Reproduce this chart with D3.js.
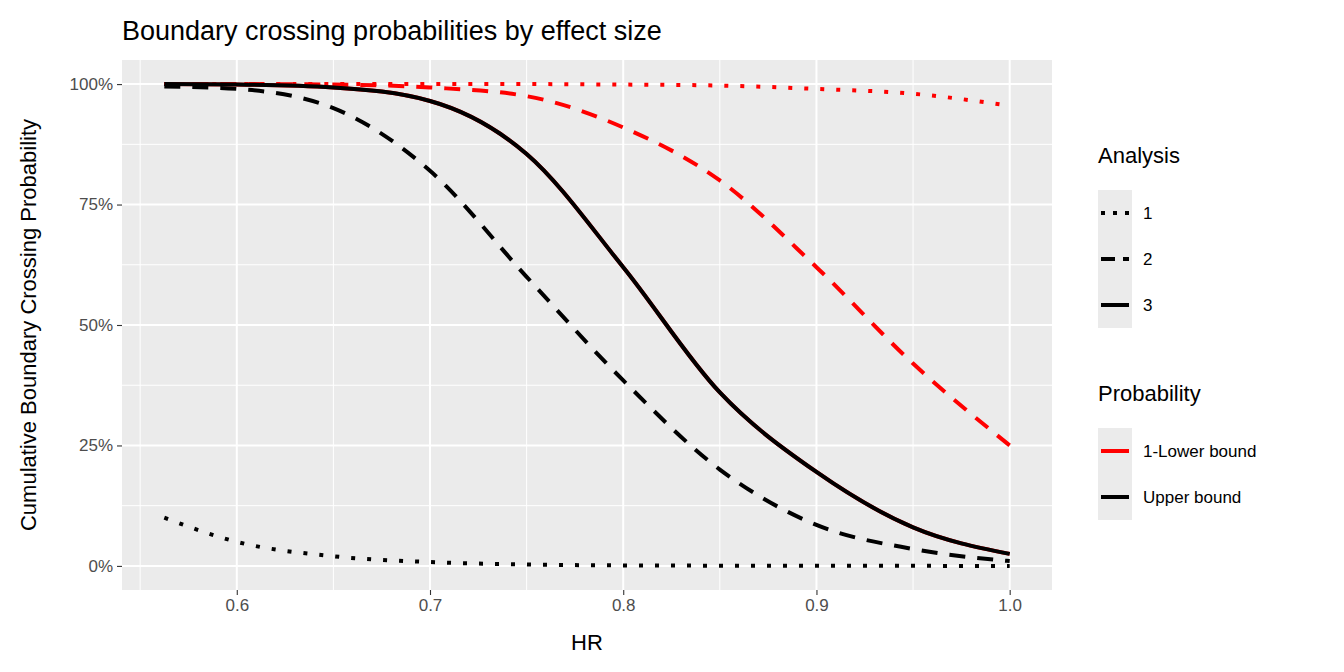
<!DOCTYPE html>
<html>
<head>
<meta charset="UTF-8">
<script src="https://d3js.org/d3.v7.min.js"></script>
<style>
  body { margin: 0; background: #fff; }
  text { font-family: "Liberation Sans", Arial, sans-serif; }
</style>
</head>
<body>
<svg id="chart" width="1344" height="672"></svg>
<script>
const hr = [0.5625, 0.6, 0.65, 0.7, 0.75, 0.8, 0.85, 0.9, 0.95, 1.0];
// upper bound, cumulative by analysis
const upper1 = [0.10, 0.05, 0.02, 0.008, 0.003, 0.001, 0.0005, 0.0002, 0.0001, 0.0];
const upper2 = [0.995, 0.99, 0.95, 0.82, 0.60, 0.385, 0.20, 0.085, 0.035, 0.01];
const upper3 = [1.0, 0.999, 0.993, 0.965, 0.855, 0.62, 0.36, 0.195, 0.08, 0.025];
// 1 - lower bound
const lower1 = [1.0, 1.0, 1.0, 1.0, 1.0, 0.999, 0.997, 0.99, 0.98, 0.955];
const lower2 = [1.0, 1.0, 0.999, 0.993, 0.975, 0.91, 0.80, 0.62, 0.42, 0.25];
const lower3 = upper3;
const xTicks = [0.6, 0.7, 0.8, 0.9, 1.0];
const yTicks = [0, 0.25, 0.5, 0.75, 1.0];

const series = [
  { name: "lower1", y: lower1, color: "#ff0000", dash: "4,12" },
  { name: "lower2", y: lower2, color: "#ff0000", dash: "16,12" },
  { name: "lower3", y: lower3, color: "#ff0000", dash: null },
  { name: "upper1", y: upper1, color: "#000000", dash: "4,12" },
  { name: "upper2", y: upper2, color: "#000000", dash: "16,12" },
  { name: "upper3", y: upper3, color: "#000000", dash: null }
];

const svg = d3.select("#chart");
const pLeft = 122, pRight = 1052, pTop = 60, pBottom = 590;

const x = d3.scaleLinear().domain([0.5406, 1.0219]).range([pLeft, pRight]);
const y = d3.scaleLinear().domain([-0.05, 1.05]).range([pBottom, pTop]);

svg.append("rect").attr("x", pLeft).attr("y", pTop)
  .attr("width", pRight - pLeft).attr("height", pBottom - pTop).attr("fill", "#ebebeb");

// minor grid
const xMinor = [0.55, 0.65, 0.75, 0.85, 0.95];
const yMinor = [0.125, 0.375, 0.625, 0.875];
svg.selectAll(".xmin").data(xMinor).enter().append("line")
  .attr("x1", d => x(d)).attr("x2", d => x(d)).attr("y1", pTop).attr("y2", pBottom)
  .attr("stroke", "#fff").attr("stroke-width", 1);
svg.selectAll(".ymin").data(yMinor).enter().append("line")
  .attr("y1", d => y(d)).attr("y2", d => y(d)).attr("x1", pLeft).attr("x2", pRight)
  .attr("stroke", "#fff").attr("stroke-width", 1);
// major grid
svg.selectAll(".xmaj").data(xTicks).enter().append("line")
  .attr("x1", d => x(d)).attr("x2", d => x(d)).attr("y1", pTop).attr("y2", pBottom)
  .attr("stroke", "#fff").attr("stroke-width", 2);
svg.selectAll(".ymaj").data(yTicks).enter().append("line")
  .attr("y1", d => y(d)).attr("y2", d => y(d)).attr("x1", pLeft).attr("x2", pRight)
  .attr("stroke", "#fff").attr("stroke-width", 2);

const line = d3.line().x(d => x(d[0])).y(d => y(d[1])).curve(d3.curveMonotoneX);
series.forEach(s => {
  svg.append("path").datum(hr.map((h, i) => [h, s.y[i]]))
    .attr("d", line).attr("fill", "none").attr("stroke", s.color)
    .attr("stroke-width", 4).attr("stroke-dasharray", s.dash);
});

// axes
const xAxis = svg.append("g").attr("transform", `translate(0,${pBottom})`)
  .call(d3.axisBottom(x).tickValues(xTicks).tickFormat(d3.format(".1f")).tickSize(5).tickPadding(4));
const yAxis = svg.append("g").attr("transform", `translate(${pLeft},0)`)
  .call(d3.axisLeft(y).tickValues(yTicks).tickFormat(d => Math.round(d * 100) + "%").tickSize(5).tickPadding(4));
[xAxis, yAxis].forEach(a => {
  a.select(".domain").remove();
  a.selectAll("line").attr("stroke", "#333").attr("stroke-width", 1.1);
  a.selectAll("text").attr("fill", "#4d4d4d").style("font-size", "17px");
});

svg.append("text").attr("x", pLeft).attr("y", 40).style("font-size", "27px").text("Boundary crossing probabilities by effect size");
svg.append("text").attr("x", (pLeft + pRight) / 2).attr("y", 650).attr("text-anchor", "middle")
  .style("font-size", "22px").text("HR");
svg.append("text").attr("transform", `translate(36,${(pTop + pBottom) / 2}) rotate(-90)`)
  .attr("text-anchor", "middle").style("font-size", "22px").text("Cumulative Boundary Crossing Probability");

// legends
function legend(title, ty, items) {
  svg.append("text").attr("x", 1098).attr("y", ty).style("font-size", "22px").text(title);
  items.forEach((it, i) => {
    const cy = ty + 50 + i * 46;
    svg.append("rect").attr("x", 1098).attr("y", cy - 23).attr("width", 34).attr("height", 46).attr("fill", "#ebebeb");
    svg.append("line").attr("x1", 1101).attr("x2", 1129).attr("y1", cy).attr("y2", cy)
      .attr("stroke", it.color).attr("stroke-width", 4).attr("stroke-dasharray", it.dash);
    svg.append("text").attr("x", 1143).attr("y", cy + 6).style("font-size", "17px").text(it.label);
  });
}
legend("Analysis", 163, [
  { label: "1", color: "#000", dash: "4,8" },
  { label: "2", color: "#000", dash: "14,8" },
  { label: "3", color: "#000", dash: null }
]);
legend("Probability", 401, [
  { label: "1-Lower bound", color: "#ff0000", dash: null },
  { label: "Upper bound", color: "#000", dash: null }
]);
</script>
</body>
</html>
